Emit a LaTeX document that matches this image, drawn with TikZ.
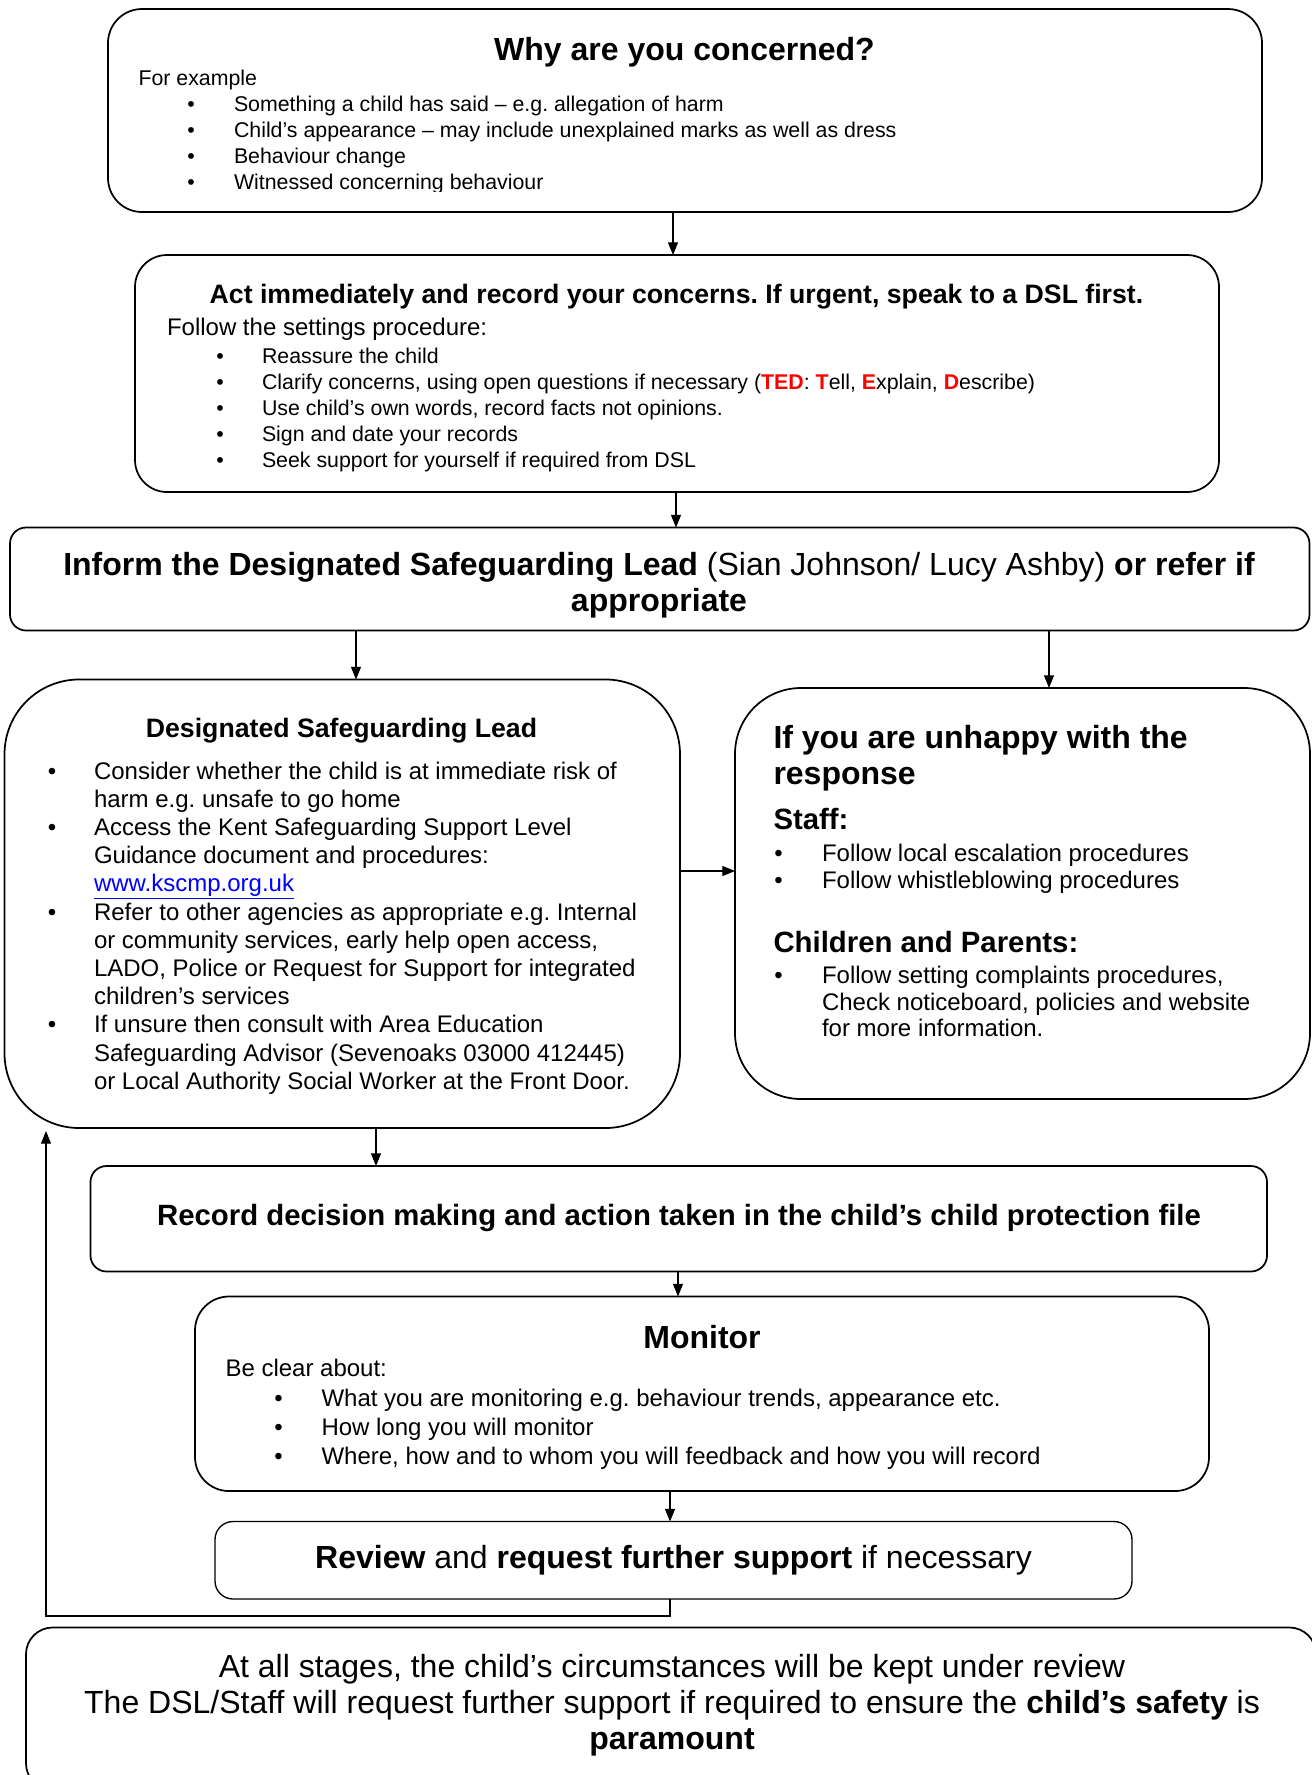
\documentclass[tikz,border=0pt]{standalone}
\usepackage{fontspec}
\setmainfont{Liberation Sans}
\usetikzlibrary{arrows.meta}
\newcounter{ln}
\newcommand\fsz[1]{\fontsize{#1pt}{#1pt}\selectfont}
\newcommand\lineL[4]{\stepcounter{ln}\node[txtl,font=#1] (ln\arabic{ln}) at (#2,#3) {#4};}
\newcommand\lineC[4]{\stepcounter{ln}\node[txtc,font=#1] (ln\arabic{ln}) at (#2,#3) {#4};}
\newcommand\bulletat[3]{\stepcounter{ln}\node[txtc,font=#1] (ln\arabic{ln}) at (#2,#3) {•};}
\newcommand\bitem[5]{\bulletat{#1}{#2}{#4}\lineL{#1}{#3}{#4}{#5}}
\newcommand\rd[1]{{\color{red}\bfseries #1}}
\begin{document}
\frenchspacing
\begin{tikzpicture}[x=0.75pt,y=-0.75pt,
  txtl/.style={anchor=base west,inner sep=0pt,outer sep=0pt},
  txtc/.style={anchor=base,inner sep=0pt,outer sep=0pt},
  boxst/.style={draw,line width=1.3pt,inner sep=0pt,outer sep=0pt,rectangle},
  arr/.style={draw,line width=0.9pt,-{Triangle[length=9.5pt,width=7.5pt]}}]
\useasboundingbox (0,0) rectangle (1312,1775);
\fill[white] (0,0) rectangle (1312,1775);

% boxes
\node[boxst,rounded corners=25.5pt,minimum width=865.5pt,minimum height=152.25pt] (b1) at (685,110.5) {};
\node[boxst,rounded corners=24pt,minimum width=813pt,minimum height=177.75pt] (b2) at (677,373.5) {};
\node[boxst,rounded corners=12pt,minimum width=974.6pt,minimum height=77.25pt] (b3) at (659.75,579) {};
\node[boxst,rounded corners=56pt,minimum width=506.6pt,minimum height=336.4pt] (b4) at (342.25,903.75) {};
\node[boxst,rounded corners=49.5pt,minimum width=431.25pt,minimum height=308.25pt] (b5) at (1022.5,893.5) {};
\node[boxst,rounded corners=12pt,minimum width=882.4pt,minimum height=79.1pt] (b6) at (678.75,1218.75) {};
\node[boxst,rounded corners=25.5pt,minimum width=760.5pt,minimum height=145.9pt] (b7) at (702,1393.75) {};
\node[boxst,line width=1pt,rounded corners=13.5pt,minimum width=687.75pt,minimum height=58.1pt] (b8) at (673.5,1560.25) {};
\node[boxst,rounded corners=20pt,minimum width=967.5pt,minimum height=121.9pt] (b9) at (671,1708.75) {};

% box 1
\lineC{\fsz{24}\bfseries}{684.5}{60}{Why are you concerned?}
\lineL{\fsz{16}}{138.5}{85.5}{For example}
\bitem{\fsz{16}}{191}{234}{111}{Something a child has said – e.g. allegation of harm}
\bitem{\fsz{16}}{191}{234}{137}{Child’s appearance – may include unexplained marks as well as dress}
\bitem{\fsz{16}}{191}{234}{163}{Behaviour change}
\begin{scope}
\clip (0,0) rectangle (1312,191.5);
\bitem{\fsz{16}}{191}{234}{189}{Witnessed concerning behaviour}
\end{scope}

% box 2
\lineC{\fsz{20}\bfseries}{676.5}{303}{Act immediately and record your concerns. If urgent, speak to a DSL first.}
\lineL{\fsz{18}}{167}{335.7}{Follow the settings procedure:}
\bitem{\fsz{16}}{220}{262}{363}{Reassure the child}
\bitem{\fsz{16}}{220}{262}{389}{Clarify concerns, using open questions if necessary (\rd{TED}: \rd{T}ell, \rd{E}xplain, \rd{D}escribe)}
\bitem{\fsz{16}}{220}{262}{415}{Use child’s own words, record facts not opinions.}
\bitem{\fsz{16}}{220}{262}{441}{Sign and date your records}
\bitem{\fsz{16}}{220}{262}{467}{Seek support for yourself if required from DSL}

% box 3
\lineC{\fsz{24}}{659}{575}{{\bfseries Inform the Designated Safeguarding Lead} (Sian Johnson/ Lucy Ashby) {\bfseries or refer if}}
\lineC{\fsz{24}\bfseries}{659}{611}{appropriate}

% box 4
\lineC{\fsz{20}\bfseries}{341.5}{737}{Designated Safeguarding Lead}
\bitem{\fsz{18}}{52}{94}{779}{Consider whether the child is at immediate risk of}
\lineL{\fsz{18}}{94}{807.2}{harm e.g. unsafe to go home}
\bitem{\fsz{18}}{52}{94}{835.4}{Access the Kent Safeguarding Support Level}
\lineL{\fsz{18}}{94}{863.6}{Guidance document and procedures:}
\lineL{\fsz{18}}{94}{891.8}{{\color{blue}\underline{www.kscmp.org.uk}}}
\bitem{\fsz{18}}{52}{94}{920}{Refer to other agencies as appropriate e.g. Internal}
\lineL{\fsz{18}}{94}{948.2}{or community services, early help open access,}
\lineL{\fsz{18}}{94}{976.4}{LADO, Police or Request for Support for integrated}
\lineL{\fsz{18}}{94}{1004.6}{children’s services}
\bitem{\fsz{18}}{52}{94}{1032.8}{If unsure then consult with Area Education}
\lineL{\fsz{18}}{94}{1061}{Safeguarding Advisor (Sevenoaks 03000 412445)}
\lineL{\fsz{18}}{94}{1089.2}{or Local Authority Social Worker at the Front Door.}

% box 5
\lineL{\fsz{24}\bfseries}{773.5}{748.5}{If you are unhappy with the}
\lineL{\fsz{24}\bfseries}{773.5}{784}{response}
\lineL{\fsz{22}\bfseries}{773.5}{829}{Staff:}
\bitem{\fsz{18}}{778.5}{822}{861}{Follow local escalation procedures}
\bitem{\fsz{18}}{778.5}{822}{888.5}{Follow whistleblowing procedures}
\lineL{\fsz{22}\bfseries}{773.5}{952}{Children and Parents:}
\bitem{\fsz{18}}{778.5}{822}{983.5}{Follow setting complaints procedures,}
\lineL{\fsz{18}}{822}{1010}{Check noticeboard, policies and website}
\lineL{\fsz{18}}{822}{1036.5}{for more information.}

% box 6
\lineC{\fsz{22}\bfseries}{679}{1225.5}{Record decision making and action taken in the child’s child protection file}

% box 7
\lineC{\fsz{24}\bfseries}{702}{1348}{Monitor}
\lineL{\fsz{18}}{225.5}{1376.5}{Be clear about:}
\bitem{\fsz{18}}{278.5}{321.5}{1406.5}{What you are monitoring e.g. behaviour trends, appearance etc.}
\bitem{\fsz{18}}{278.5}{321.5}{1435.5}{How long you will monitor}
\bitem{\fsz{18}}{278.5}{321.5}{1464.5}{Where, how and to whom you will feedback and how you will record}

% box 8
\lineC{\fsz{24}}{673.5}{1568.5}{{\bfseries Review} and {\bfseries request further support} if necessary}

% box 9
\lineC{\fsz{24}}{672}{1677}{At all stages, the child’s circumstances will be kept under review}
\lineC{\fsz{24}}{672}{1713}{The DSL/Staff will request further support if required to ensure the {\bfseries child’s safety} is}
\lineC{\fsz{24}\bfseries}{672}{1749}{paramount}

% connectors
\coordinate (xa1) at (673,0);
\coordinate (xa2) at (676,0);
\coordinate (xa3) at (356,0);
\coordinate (xa4) at (1049,0);
\coordinate (ya5) at (0,871);
\coordinate (xa6) at (376,0);
\coordinate (xa7) at (678,0);
\coordinate (xa8) at (670,0);
\coordinate (fbc) at (46,1616);
\coordinate (fb) at (46,1131);
\draw[arr] (b1.south -| xa1) -- (b2.north -| xa1);
\draw[arr] (b2.south -| xa2) -- (b3.north -| xa2);
\draw[arr] (b3.south -| xa3) -- (b4.north -| xa3);
\draw[arr] (b3.south -| xa4) -- (b5.north -| xa4);
\draw[arr] (b4.east |- ya5) -- (b5.west |- ya5);
\draw[arr] (b4.south -| xa6) -- (b6.north -| xa6);
\draw[arr] (b6.south -| xa7) -- (b7.north -| xa7);
\draw[arr] (b7.south -| xa8) -- (b8.north -| xa8);
\draw[arr] (b8.south -| xa8) |- (fbc) -- (fb);
\end{tikzpicture}
\end{document}
